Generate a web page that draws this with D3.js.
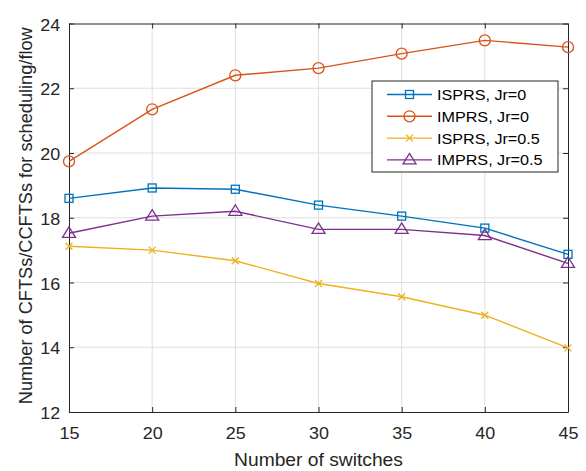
<!DOCTYPE html>
<html>
<head>
<meta charset="utf-8">
<script src="https://cdn.jsdelivr.net/npm/d3@7"></script>
<style>
  body { margin: 0; background: #fff; }
  svg { font-family: "Liberation Sans", Arial, sans-serif; }
  .grid line { stroke: #dfdfdf; stroke-width: 1; }
  .axis path, .axis line { stroke: #262626; }
  .axis text { fill: #262626; font-size: 16.3px; }
</style>
</head>
<body>
<div id="chart"></div>
<script>
const switches = [15, 20, 25, 30, 35, 40, 45];
const isprsJr0 = [18.6, 18.92, 18.88, 18.39, 18.05, 17.68, 16.87];
const imprsJr0 = [19.74, 21.35, 22.4, 22.62, 23.07, 23.48, 23.27];
const isprsJr05 = [17.12, 17.0, 16.67, 15.97, 15.56, 14.99, 13.98];
const imprsJr05 = [17.52, 18.05, 18.2, 17.64, 17.64, 17.45, 16.59];
const yTicks = [12, 14, 16, 18, 20, 22, 24];

const series = [
  { name: 'ISPRS, Jr=0', values: isprsJr0, color: '#0072BD', marker: 'square' },
  { name: 'IMPRS, Jr=0', values: imprsJr0, color: '#D95319', marker: 'circle' },
  { name: 'ISPRS, Jr=0.5', values: isprsJr05, color: '#EDB120', marker: 'cross' },
  { name: 'IMPRS, Jr=0.5', values: imprsJr05, color: '#7E2F8E', marker: 'triangle' }
];

const W = 586, H = 471;
const margin = { top: 23.5, right: 18, bottom: 59, left: 69 };
const width = W - margin.left - margin.right,
    height = H - margin.top - margin.bottom;
// the picture is a bit stretched sideways, so horizontal text is widened too
const sx = 1.1;

const svg = d3.select('#chart').append('svg')
    .attr('width', W).attr('height', H);
const g = svg.append('g')
    .attr('transform', 'translate(' + margin.left + ',' + margin.top + ')');

const x = d3.scaleLinear().domain([15, 45]).range([0, width]);
const y = d3.scaleLinear().domain([12, 24]).range([height, 0]);

// grid
g.append('g').attr('class', 'grid')
    .selectAll('line').data(switches.slice(1, -1)).join('line')
    .attr('x1', d => x(d)).attr('x2', d => x(d))
    .attr('y1', 0).attr('y2', height);
g.append('g').attr('class', 'grid')
    .selectAll('line').data(yTicks.slice(1, -1)).join('line')
    .attr('x1', 0).attr('x2', width)
    .attr('y1', d => y(d)).attr('y2', d => y(d));

// axes, ticks inside like matlab
const tick = 5;
g.append('g').attr('class', 'axis')
    .attr('transform', 'translate(0,' + height + ')')
    .call(d3.axisBottom(x).tickValues(switches).tickSizeInner(-tick).tickSizeOuter(0).tickPadding(15.5))
    .call(s => s.selectAll('.tick text').attr('dy', '0.71em').attr('transform', 'scale(' + sx + ',1)'));
g.append('g').attr('class', 'axis')
    .call(d3.axisLeft(y).tickValues(yTicks).tickSizeInner(-tick).tickSizeOuter(0).tickPadding(8))
    .call(s => s.selectAll('.tick text').attr('dy', '0.4em').attr('transform', 'scale(' + sx + ',1)'));
g.append('g').attr('class', 'axis')
    .call(d3.axisTop(x).tickValues(switches).tickSizeInner(-tick).tickSizeOuter(0).tickFormat(''));
g.append('g').attr('class', 'axis')
    .attr('transform', 'translate(' + width + ',0)')
    .call(d3.axisRight(y).tickValues(yTicks).tickSizeInner(-tick).tickSizeOuter(0).tickFormat(''));

// titles
svg.append('text')
    .attr('transform', 'translate(' + (margin.left + width / 2) + ',466) scale(' + sx + ',1)')
    .attr('text-anchor', 'middle').attr('fill', '#262626')
    .style('font-size', '17.5px')
    .text('Number of switches');
svg.append('text')
    .attr('transform', 'translate(32,' + (margin.top + height / 2 - 2) + ') rotate(-90)')
    .attr('text-anchor', 'middle').attr('fill', '#262626')
    .style('font-size', '18.2px')
    .text('Number of CFTSs/CCFTSs for scheduling/flow');

function drawMarker(sel, type, color) {
  if (type === 'square') {
    sel.append('rect').attr('x', -4).attr('y', -4).attr('width', 8).attr('height', 8)
        .attr('fill', 'none').attr('stroke', color).attr('stroke-width', 1.3);
  } else if (type === 'circle') {
    sel.append('circle').attr('r', 5.5)
        .attr('fill', 'none').attr('stroke', color).attr('stroke-width', 1.3);
  } else if (type === 'cross') {
    sel.append('path').attr('d', 'M-3.5,-3.5L3.5,3.5M-3.5,3.5L3.5,-3.5')
        .attr('fill', 'none').attr('stroke', color).attr('stroke-width', 1.3);
  } else {
    sel.append('path').attr('d', 'M0,-6.5L6.5,4L-6.5,4Z')
        .attr('fill', 'none').attr('stroke', color).attr('stroke-width', 1.3);
  }
}

const line = d3.line().x((d, i) => x(switches[i])).y(d => y(d));

series.forEach(s => {
  g.append('path').attr('d', line(s.values))
      .attr('fill', 'none').attr('stroke', s.color).attr('stroke-width', 1.4);
  s.values.forEach((v, i) => {
    const m = g.append('g').attr('transform', 'translate(' + x(switches[i]) + ',' + y(v) + ')');
    drawMarker(m, s.marker, s.color);
  });
});

// legend
const lg = svg.append('g').attr('transform', 'translate(372,81)');
lg.append('rect').attr('width', 186).attr('height', 91)
    .attr('fill', '#fff').attr('stroke', '#262626').attr('stroke-width', 1);
series.forEach((s, i) => {
  const ry = 13.5 + i * 21.8;
  const r = lg.append('g').attr('transform', 'translate(0,' + ry + ')');
  r.append('line').attr('x1', 15).attr('x2', 60).attr('y1', 0).attr('y2', 0)
      .attr('stroke', s.color).attr('stroke-width', 1.4);
  const m = r.append('g').attr('transform', 'translate(37.5,0)');
  drawMarker(m, s.marker, s.color);
  r.append('text').attr('transform', 'translate(65,0) scale(1.05,1)').attr('dy', '0.36em')
      .attr('fill', '#000').style('font-size', '15.4px').text(s.name);
});
</script>
</body>
</html>
